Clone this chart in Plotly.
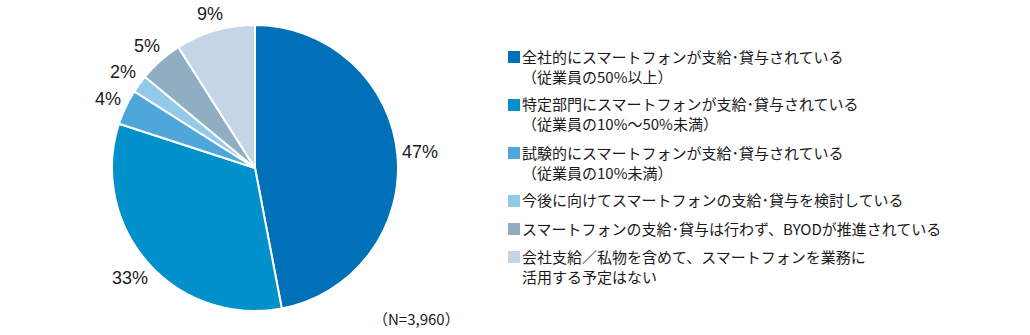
import math
import plotly.graph_objects as go

W, H = 1030, 335

categories = [
    "全社的にスマートフォンが支給･貸与されている<br>（従業員の50%以上）",
    "特定部門にスマートフォンが支給･貸与されている<br>（従業員の10%～50%未満）",
    "試験的にスマートフォンが支給･貸与されている<br>（従業員の10%未満）",
    "今後に向けてスマートフォンの支給･貸与を検討している",
    "スマートフォンの支給･貸与は行わず、BYODが推進されている",
    "会社支給／私物を含めて、スマートフォンを業務に<br>活用する予定はない",
]
values = [47, 33, 4, 2, 5, 9]
colors = ["#0070b9", "#0090cc", "#4ea6da", "#93c9e8", "#8faec2", "#c5d5e6"]

# pie geometry in pixels
cx, cy, r = 255, 168, 143
label_gap = 150          # distance from centre to the near edge of a label
label_font = 18
char_w = 10              # approximate width of one label character

fig = go.Figure(
    go.Pie(
        labels=categories,
        values=values,
        marker=dict(colors=colors, line=dict(color="white", width=2)),
        sort=False,
        direction="clockwise",
        rotation=0,
        textinfo="none",
        hoverinfo="label+percent",
        showlegend=False,
        domain=dict(x=[(cx - r) / W, (cx + r) / W], y=[(H - cy - r) / H, (H - cy + r) / H]),
    )
)

# percentage labels around the pie, at each slice's mid-angle
total = sum(values)
cum = 0
annotations = []
for v in values:
    mid = (cum + v / 2) / total * 2 * math.pi
    cum += v
    s, c = math.sin(mid), math.cos(mid)
    txt = f"{v}%"
    hw = len(txt) * char_w / 2
    hh = label_font * 0.45
    d = label_gap + hw * abs(s) + hh * abs(c)
    px = cx + d * s
    py = cy - d * c
    annotations.append(dict(
        x=px / W, y=1 - py / H, xref="paper", yref="paper",
        text=txt, showarrow=False,
        font=dict(family="Liberation Sans, Arial, sans-serif", size=label_font, color="#1a1a1a"),
        xanchor="center", yanchor="middle",
    ))

annotations.append(dict(
    x=416 / W, y=1 - 318 / H, xref="paper", yref="paper",
    text="（N=3,960）", showarrow=False,
    font=dict(family="Noto Sans CJK JP, Liberation Sans, sans-serif", size=15, color="#1a1a1a"),
    xanchor="center", yanchor="middle",
))

# legend: colour square + label, one row per category
shapes = []
leg_x_box, leg_x_text = 508, 520
box = 12
line_h, item_gap = 20, 8
y_line = 56
for label, col in zip(categories, colors):
    n = label.count("<br>") + 1
    shapes.append(dict(
        type="rect", xref="paper", yref="paper",
        x0=leg_x_box / W, x1=(leg_x_box + box) / W,
        y0=1 - (y_line + 1 + box / 2) / H, y1=1 - (y_line + 1 - box / 2) / H,
        fillcolor=col, line=dict(width=0),
    ))
    annotations.append(dict(
        x=leg_x_text / W, y=1 - (y_line + (n - 1) * line_h / 2) / H,
        xref="paper", yref="paper",
        text=label, showarrow=False, align="left",
        font=dict(family="Noto Sans CJK JP, sans-serif", size=15, color="#1a1a1a"),
        xanchor="left", yanchor="middle",
    ))
    y_line += (n - 1) * line_h + line_h + item_gap

fig.update_layout(
    width=W, height=H,
    margin=dict(l=0, r=0, t=0, b=0),
    paper_bgcolor="white",
    plot_bgcolor="white",
    annotations=annotations,
    shapes=shapes,
    showlegend=False,
)

fig.write_html("out.html")
